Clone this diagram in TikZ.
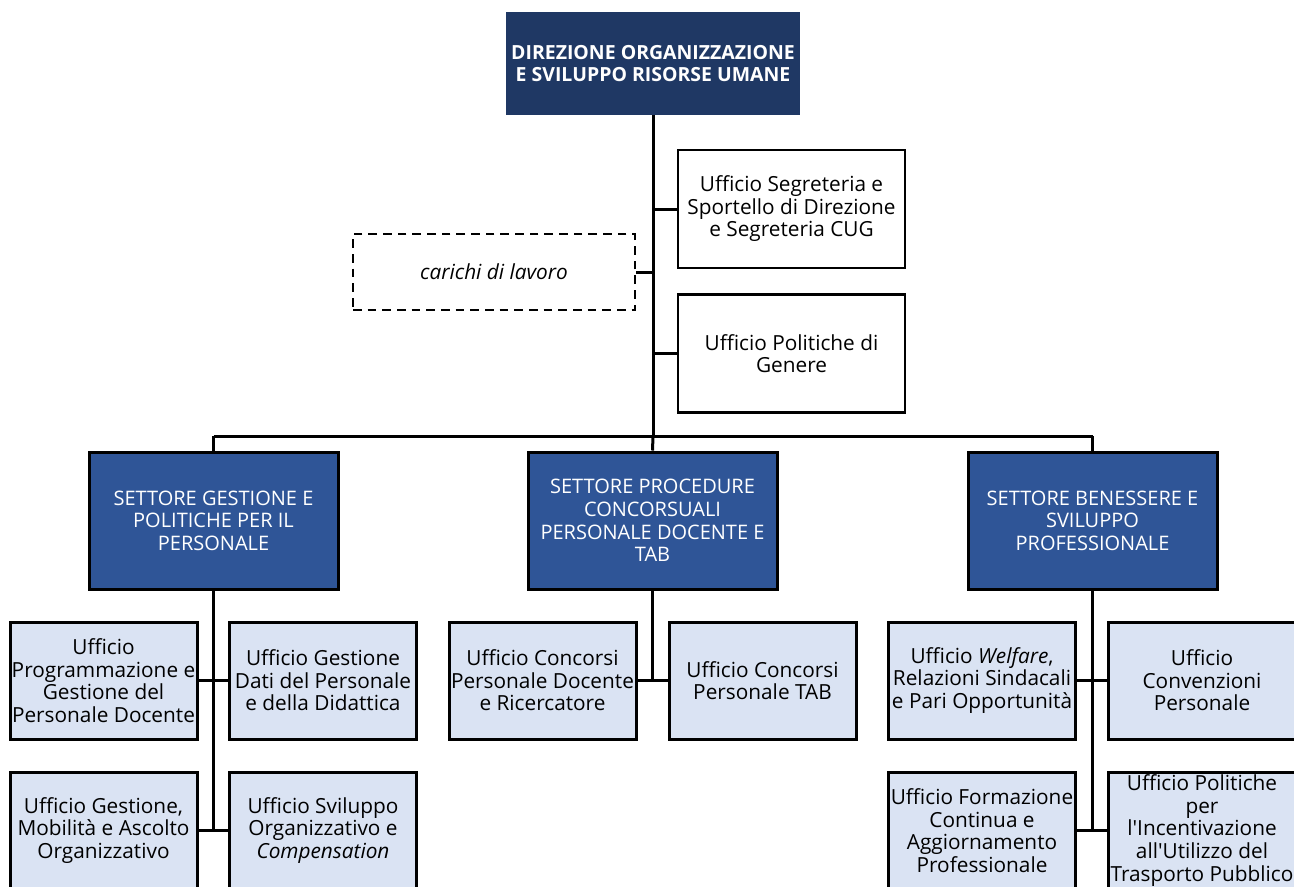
\documentclass[tikz,border=0pt]{standalone}
\usepackage{fontspec}
\setmainfont{Open Sans}
\usetikzlibrary{positioning}

\definecolor{dirblue}{RGB}{31,56,100}
\definecolor{setblue}{RGB}{47,85,151}
\definecolor{uffblue}{RGB}{218,227,243}

\tikzset{
  txt/.style={font=\fontsize{15.6}{16.9}\selectfont, align=center, inner sep=0pt},
  direzione/.style={txt, fill=dirblue, text=white, font=\bfseries\fontsize{14.6}{16.9}\selectfont,
    minimum width=220.5pt, minimum height=77.25pt},
  settore/.style={txt, draw=black, line width=2.25pt, fill=setblue, text=white,
    font=\fontsize{15}{16.9}\selectfont, minimum width=186.75pt, minimum height=102.75pt},
  ufficio/.style={txt, draw=black, line width=2.25pt, fill=uffblue,
    minimum width=140.25pt, minimum height=87.75pt},
  staff/.style={txt, draw=black, line width=1.6pt, fill=white,
    minimum width=170.25pt, minimum height=88.5pt},
  lavoro/.style={txt, draw=black, line width=1.6pt, dash pattern=on 6.5pt off 4.5pt,
    minimum width=211.5pt, minimum height=57pt},
  link/.style={line width=2.25pt}
}

\begin{document}
\begin{tikzpicture}[x=0.75pt,y=-0.75pt]
  \useasboundingbox (0,0) rectangle (1294,886);
  \clip (0,0) rectangle (1294,886);

  % direzione e staff
  \node[direzione] (dir) at (653,63.5) {DIREZIONE ORGANIZZAZIONE\\E SVILUPPO RISORSE UMANE};
  \node[staff] (segr) at (791.5,209) {Ufficio Segreteria e\\Sportello di Direzione\\e Segreteria CUG};
  \node[staff] (gen) at (791.5,353.5) {Ufficio Politiche di\\Genere};
  \node[lavoro] (car) at (494,272) {\itshape carichi di lavoro};

  % settori
  \node[settore] (set1) at (213.5,520.5) {SETTORE GESTIONE E\\POLITICHE PER IL\\PERSONALE};
  \node[settore] (set2) at (652.5,520.5) {SETTORE PROCEDURE\\CONCORSUALI\\PERSONALE DOCENTE E\\TAB};
  \node[settore] (set3) at (1092.5,520.5) {SETTORE BENESSERE E\\SVILUPPO\\PROFESSIONALE};

  % uffici settore 1
  \node[ufficio] (u11) at (103.5,680.5) {Ufficio\\Programmazione e\\Gestione del\\Personale Docente};
  \node[ufficio] (u12) at (323,680.5) {Ufficio Gestione\\Dati del Personale\\e della Didattica};
  \node[ufficio] (u13) at (103.5,830.5) {Ufficio Gestione,\\Mobilità e Ascolto\\Organizzativo};
  \node[ufficio] (u14) at (323,830.5) {Ufficio Sviluppo\\Organizzativo e\\\textit{Compensation}};

  % uffici settore 2
  \node[ufficio] (u21) at (542.5,680.5) {Ufficio Concorsi\\Personale Docente\\e Ricercatore};
  \node[ufficio] (u22) at (762.5,680.5) {Ufficio Concorsi\\Personale TAB};

  % uffici settore 3
  \node[ufficio] (u31) at (982,680.5) {Ufficio \textit{Welfare},\\Relazioni Sindacali\\e Pari Opportunità};
  \node[ufficio] (u32) at (1202,680.5) {Ufficio\\Convenzioni\\Personale};
  \node[ufficio] (u33) at (982,830.5) {Ufficio Formazione\\Continua e\\Aggiornamento\\Professionale};
  \node[ufficio] (u34) at (1202,830.5) {Ufficio Politiche\\per\\l\textquotesingle Incentivazione\\all\textquotesingle Utilizzo del\\Trasporto Pubblico};

  \coordinate (bus) at (653,436);

  % collegamenti
  \draw[link] (dir.south) -- (bus);
  \draw[link] (segr.west) -- (segr.west -| bus);
  \draw[link] (gen.west) -- (gen.west -| bus);
  \draw[link] (car.east) -- (car.east -| bus);
  \draw[link] (set1.north |- bus) -- (set3.north |- bus);
  \draw[link] (set1.north |- bus) -- (set1.north);
  \draw[link] (set3.north |- bus) -- (set3.north);
  \draw[link] (bus) -- (set2.north);

  \draw[link] (set1.south) -- (set1.south |- u13.east);
  \draw[link] (u11.east) -- (u12.west);
  \draw[link] (u13.east) -- (u14.west);
  \draw[link] (set2.south) -- (set2.south |- u21.east);
  \draw[link] (u21.east) -- (u22.west);
  \draw[link] (set3.south) -- (set3.south |- u33.east);
  \draw[link] (u31.east) -- (u32.west);
  \draw[link] (u33.east) -- (u34.west);
\end{tikzpicture}
\end{document}
